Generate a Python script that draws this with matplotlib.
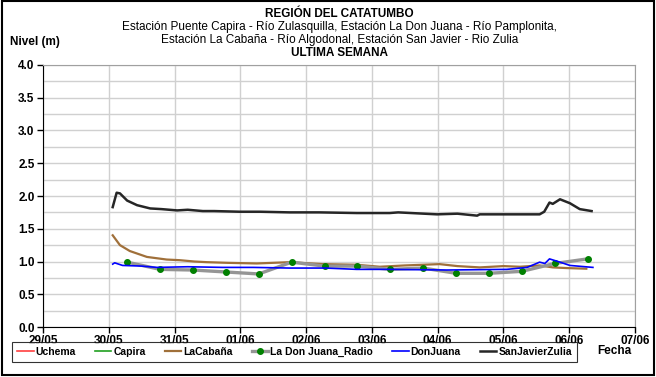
import matplotlib.pyplot as plt
from matplotlib.patches import Rectangle
from matplotlib.ticker import MultipleLocator
import numpy as np

plt.rcParams['font.family'] = ['Liberation Sans', 'DejaVu Sans']

# x values: days since 29/05 00:00
day_labels = ['29/05', '30/05', '31/05', '01/06', '02/06', '03/06', '04/06', '05/06', '06/06', '07/06']

sanjavier_t = [1.06, 1.12, 1.17, 1.28, 1.43, 1.63, 1.80, 2.04, 2.20, 2.43, 2.60, 2.99, 3.30, 3.75, 4.20,
               4.77, 5.27, 5.40, 5.99, 6.30, 6.60, 6.64, 7.10, 7.55, 7.62, 7.66, 7.70, 7.75, 7.86,
               8.01, 8.16, 8.34]
sanjavier_y = [1.83, 2.05, 2.04, 1.93, 1.86, 1.81, 1.80, 1.78, 1.79, 1.77, 1.77, 1.76, 1.76, 1.75, 1.75,
               1.74, 1.74, 1.75, 1.72, 1.73, 1.70, 1.72, 1.72, 1.72, 1.76, 1.83, 1.90, 1.88, 1.95,
               1.89, 1.80, 1.77]

cabana_t = [1.06, 1.17, 1.32, 1.58, 1.88, 2.08, 2.30, 2.49, 2.80, 3.25, 3.75, 4.25, 4.77, 5.12, 5.50,
            6.03, 6.30, 6.64, 7.00, 7.25, 7.55, 7.75, 7.96, 8.26]
cabana_y = [1.40, 1.25, 1.16, 1.07, 1.03, 1.02, 1.00, 0.99, 0.98, 0.97, 0.99, 0.96, 0.95, 0.92, 0.94,
            0.96, 0.93, 0.91, 0.93, 0.92, 0.94, 0.91, 0.90, 0.89]

donjuana_t = [1.06, 1.09, 1.21, 1.50, 1.73, 2.20, 2.73, 3.20, 3.75, 4.30, 4.77, 5.27, 6.14, 7.05, 7.36,
              7.55, 7.63, 7.70, 7.86, 8.01, 8.36]
donjuana_y = [0.96, 0.98, 0.94, 0.93, 0.91, 0.92, 0.91, 0.91, 0.90, 0.90, 0.88, 0.88, 0.87, 0.88, 0.91,
              0.99, 0.97, 1.04, 0.99, 0.94, 0.91]

radio_t = [1.28, 1.78, 2.28, 2.78, 3.28, 3.78, 4.28, 4.78, 5.28, 5.78, 6.28, 6.78, 7.28, 7.78, 8.28]
radio_y = [0.99, 0.88, 0.87, 0.84, 0.81, 0.99, 0.93, 0.93, 0.88, 0.90, 0.82, 0.82, 0.85, 0.97, 1.04]

fig = plt.figure(figsize=(6.56, 3.77), dpi=100)
ax = fig.add_axes([0.0655, 0.1326, 0.9025, 0.695])

ax.plot([], [], color='#ff4040', lw=1.2, label='Uchema')
ax.plot([], [], color='#20a020', lw=1.2, label='Capira')
ax.plot(cabana_t, cabana_y, color='#a0703a', lw=1.6, label='LaCabaña')
ax.plot(radio_t, radio_y, color='#959595', lw=2.4, marker='o', ms=4,
        mfc='#008000', mec='#008000', label='La Don Juana_Radio')
ax.plot(donjuana_t, donjuana_y, color='#0000ff', lw=1.2, label='DonJuana')
ax.plot(sanjavier_t, sanjavier_y, color='#262626', lw=1.8, label='SanJavierZulia')

ax.set_xlim(0, 9)
ax.set_ylim(0, 4)
ax.set_xticks(range(len(day_labels)))
ax.set_xticklabels(day_labels)
ax.yaxis.set_major_locator(MultipleLocator(0.5))
ax.yaxis.set_minor_locator(MultipleLocator(0.25))
ax.yaxis.set_major_formatter(plt.FormatStrFormatter('%.1f'))
ax.grid(True, which='both', color='#d0d0d0', lw=1)
ax.set_axisbelow(True)
ax.tick_params(which='minor', length=0)
ax.tick_params(which='major', length=4, width=1, labelsize=8.5, pad=2)
for lab in ax.get_xticklabels() + ax.get_yticklabels():
    lab.set_fontweight('bold')
ax.spines['left'].set_color('black')
ax.spines['bottom'].set_color('black')
ax.spines['top'].set_color('#a0a0a0')
ax.spines['right'].set_color('#a0a0a0')

fig.text(0.518, 1 - 14 / 377, 'REGIÓN DEL CATATUMBO', ha='center', va='center', fontsize=8.5, fontweight='bold')
fig.text(0.518, 1 - 27 / 377, 'Estación Puente Capira - Río Zulasquilla, Estación La Don Juana - Río Pamplonita,',
         ha='center', va='center', fontsize=8.5)
fig.text(0.518, 1 - 40 / 377, 'Estación La Cabaña - Río Algodonal, Estación San Javier - Rio Zulia',
         ha='center', va='center', fontsize=8.5)
fig.text(0.518, 1 - 53 / 377, 'ULTIMA SEMANA', ha='center', va='center', fontsize=8.5, fontweight='bold')
fig.text(10 / 656, 1 - 42 / 377, 'Nivel (m)', ha='left', va='center', fontsize=8.5, fontweight='bold')
fig.text(597 / 656, 1 - 351 / 377, 'Fecha', ha='left', va='center', fontsize=8.5, fontweight='bold')

leg = fig.legend(loc='center', bbox_to_anchor=(294.5 / 656, 1 - 352 / 377), ncol=6,
                 prop={'size': 7.5, 'weight': 'bold'}, frameon=True, fancybox=False,
                 edgecolor='black', handlelength=1.6, handletextpad=0.2, columnspacing=1.8,
                 borderpad=0.45, borderaxespad=0)
leg.get_frame().set_linewidth(0.8)

fig.patches.append(Rectangle((0.003, 0.004), 0.994, 0.993, transform=fig.transFigure,
                             fill=False, edgecolor='black', lw=1.5))

fig.savefig('out.png', dpi=100)
